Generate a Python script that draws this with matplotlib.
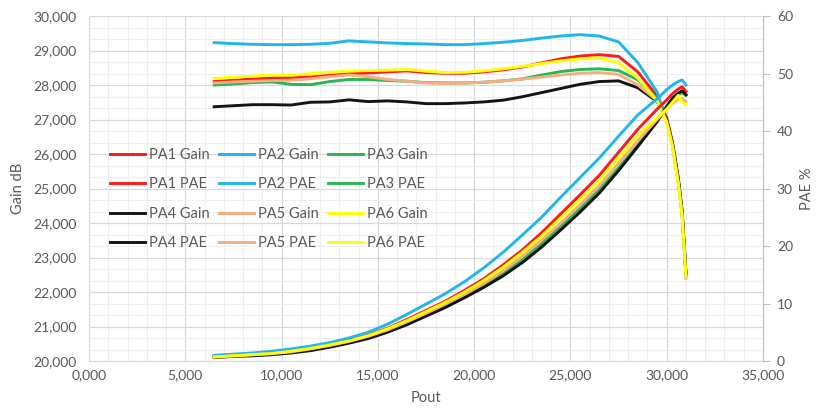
import matplotlib
matplotlib.use('Agg')
import matplotlib.pyplot as plt
from matplotlib.ticker import MultipleLocator, FuncFormatter
import numpy as np

plt.rcParams['font.family'] = ['Lato', 'DejaVu Sans']

# Pout (dBm), same sweep for every PA
pout = [6.5, 7.5, 8.5, 9.5, 10.5, 11.5, 12.5, 13.5, 14.5, 15.5, 16.5, 17.5, 18.5,
        19.5, 20.5, 21.5, 22.5, 23.5, 24.5, 25.5, 26.5, 27.5, 28.5, 29.5,
        30.0, 30.3, 30.6, 30.8, 31.0]

# gain (dB)
gain_pa1 = [28.10, 28.14, 28.17, 28.20, 28.22, 28.23, 28.28, 28.33, 28.35, 28.38, 28.41, 28.36, 28.34,
            28.34, 28.38, 28.44, 28.52, 28.64, 28.76, 28.84, 28.88, 28.83, 28.38, 27.68,
            27.05, 26.35, 25.30, 24.35, 22.50]
gain_pa2 = [29.23, 29.20, 29.18, 29.17, 29.17, 29.18, 29.21, 29.28, 29.25, 29.22, 29.20, 29.19, 29.17,
            29.17, 29.20, 29.24, 29.29, 29.36, 29.42, 29.46, 29.42, 29.25, 28.65, 27.80,
            26.95, 26.30, 25.20, 24.30, 22.45]
gain_pa3 = [28.00, 28.03, 28.07, 28.09, 28.02, 28.01, 28.10, 28.16, 28.16, 28.13, 28.11, 28.07, 28.06,
            28.06, 28.08, 28.12, 28.18, 28.29, 28.39, 28.45, 28.47, 28.42, 28.15, 27.60,
            26.95, 26.25, 25.20, 24.25, 22.50]
gain_pa4 = [27.37, 27.40, 27.43, 27.43, 27.42, 27.50, 27.51, 27.57, 27.52, 27.54, 27.51, 27.46, 27.46,
            27.48, 27.51, 27.56, 27.66, 27.78, 27.90, 28.02, 28.10, 28.12, 27.92, 27.52,
            27.00, 26.30, 25.30, 24.35, 22.55]
gain_pa5 = [28.06, 28.09, 28.11, 28.13, 28.14, 28.18, 28.24, 28.29, 28.24, 28.16, 28.11, 28.06, 28.05,
            28.06, 28.08, 28.12, 28.17, 28.23, 28.29, 28.34, 28.36, 28.31, 28.00, 27.55,
            26.95, 26.25, 25.20, 24.25, 22.40]
gain_pa6 = [28.19, 28.22, 28.26, 28.29, 28.28, 28.33, 28.37, 28.40, 28.42, 28.43, 28.45, 28.40, 28.36,
            28.37, 28.41, 28.47, 28.54, 28.62, 28.70, 28.76, 28.79, 28.64, 28.20, 27.55,
            26.90, 26.20, 25.15, 24.20, 22.45]

# PAE (%)
pae_pa1 = [0.8, 1.0, 1.2, 1.4, 1.8, 2.3, 2.9, 3.6, 4.5, 5.7, 7.2, 8.8, 10.4,
           12.3, 14.3, 16.7, 19.3, 22.3, 25.6, 28.9, 32.3, 36.3, 40.3, 43.8,
           45.4, 46.5, 47.3, 47.7, 46.9]
pae_pa2 = [1.0, 1.2, 1.4, 1.7, 2.1, 2.6, 3.2, 4.0, 5.0, 6.4, 8.1, 9.9, 11.7,
           13.8, 16.2, 18.9, 21.9, 25.0, 28.5, 31.9, 35.3, 39.1, 42.8, 45.6,
           47.2, 48.0, 48.6, 48.9, 48.0]
pae_pa3 = [0.7, 0.9, 1.0, 1.2, 1.5, 2.0, 2.6, 3.3, 4.2, 5.3, 6.6, 8.1, 9.6,
           11.3, 13.1, 15.2, 17.6, 20.4, 23.4, 26.5, 29.8, 33.6, 37.6, 41.8,
           44.0, 45.3, 46.3, 46.7, 46.2]
pae_pa4 = [0.6, 0.8, 0.9, 1.1, 1.4, 1.8, 2.4, 3.1, 3.9, 5.0, 6.3, 7.8, 9.3,
           11.0, 12.8, 14.8, 17.1, 19.8, 22.8, 25.9, 29.2, 33.1, 37.3, 41.6,
           44.3, 45.7, 46.6, 47.0, 46.3]
pae_pa5 = [0.7, 0.9, 1.1, 1.3, 1.6, 2.1, 2.7, 3.4, 4.3, 5.4, 6.8, 8.3, 9.9,
           11.6, 13.5, 15.7, 18.2, 21.0, 24.0, 27.2, 30.5, 34.4, 38.3, 42.0,
           43.8, 44.8, 45.5, 45.7, 45.1]
pae_pa6 = [0.7, 0.9, 1.1, 1.3, 1.7, 2.2, 2.8, 3.5, 4.4, 5.6, 7.0, 8.6, 10.2,
           12.0, 14.0, 16.3, 18.9, 21.7, 24.9, 28.1, 31.4, 35.3, 39.2, 42.3,
           43.8, 45.0, 46.2, 45.0, 44.6]

names = ['PA1', 'PA2', 'PA3', 'PA4', 'PA5', 'PA6']
colors = ['#ff1a1a', '#21b5ef', '#2bb556', '#141414', '#f5ae80', '#ffff00']
gains = [gain_pa1, gain_pa2, gain_pa3, gain_pa4, gain_pa5, gain_pa6]
paes = [pae_pa1, pae_pa2, pae_pa3, pae_pa4, pae_pa5, pae_pa6]

txt = '#595959'
fig = plt.figure(figsize=(8.19, 4.15), dpi=100)
ax = fig.add_axes([0.1087, 0.1301, 0.8229, 0.8313])
ax2 = ax.twinx()

h_gain = []
h_pae = []
for i in range(len(names)):
    l, = ax.plot(pout, gains[i], color=colors[i], lw=2.1, label=names[i] + ' Gain',
                 solid_joinstyle='round')
    h_gain.append(l)
for i in range(len(names)):
    l, = ax2.plot(pout, paes[i], color=colors[i], lw=2.1, label=names[i] + ' PAE',
                  solid_joinstyle='round')
    h_pae.append(l)

ax.set_xlim(0, 35)
ax.set_ylim(20, 30)
ax2.set_ylim(0, 60)

fmt = FuncFormatter(lambda v, p: ('%.3f' % v).replace('.', ','))
ax.xaxis.set_major_locator(MultipleLocator(5))
ax.xaxis.set_minor_locator(MultipleLocator(1))
ax.yaxis.set_major_locator(MultipleLocator(1))
ax.yaxis.set_minor_locator(MultipleLocator(1 / 3))
ax.xaxis.set_major_formatter(fmt)
ax.yaxis.set_major_formatter(fmt)
ax2.yaxis.set_major_locator(MultipleLocator(10))

ax.grid(which='major', color='#d9d9d9', lw=0.9)
ax.grid(which='minor', color='#efefef', lw=0.8)
ax.set_axisbelow(True)

ax.tick_params(which='both', length=0, labelsize=10, colors=txt, pad=6)
ax.tick_params(axis='y', pad=9)
ax2.tick_params(axis='y', length=5, color='#bfbfbf', labelsize=10, colors=txt, pad=5)
ax2.tick_params(axis='y', color='#bfbfbf')

for s in ['top']:
    ax.spines[s].set_visible(False)
    ax2.spines[s].set_visible(False)
ax.spines['left'].set_color('#d9d9d9')
ax.spines['bottom'].set_color('#d9d9d9')
ax.spines['right'].set_visible(False)
ax2.spines['left'].set_visible(False)
ax2.spines['bottom'].set_visible(False)
ax2.spines['right'].set_color('#bfbfbf')

ax.set_xlabel('Pout', fontsize=10.5, color=txt, labelpad=7)
ax.set_ylabel('Gain dB', fontsize=10.5, color=txt, labelpad=6)
ax2.set_ylabel('PAE %', fontsize=10.5, color=txt, labelpad=5)

# legend rows: Gain 1-3 / PAE 1-3 / Gain 4-6 / PAE 4-6 (matplotlib fills column-wise)
order = []
for c in range(3):
    order += [h_gain[c], h_pae[c], h_gain[c + 3], h_pae[c + 3]]
leg = ax2.legend(handles=order, ncol=3, frameon=False, loc='upper left',
                 bbox_to_anchor=(110 / 819, 1 - 148 / 415), bbox_transform=fig.transFigure,
                 borderaxespad=0, borderpad=0, fontsize=10.5, handlelength=2.4,
                 handletextpad=0.3, columnspacing=0.6, labelspacing=1.05)
for t in leg.get_texts():
    t.set_color(txt)

plt.savefig('out.png', dpi=100)
